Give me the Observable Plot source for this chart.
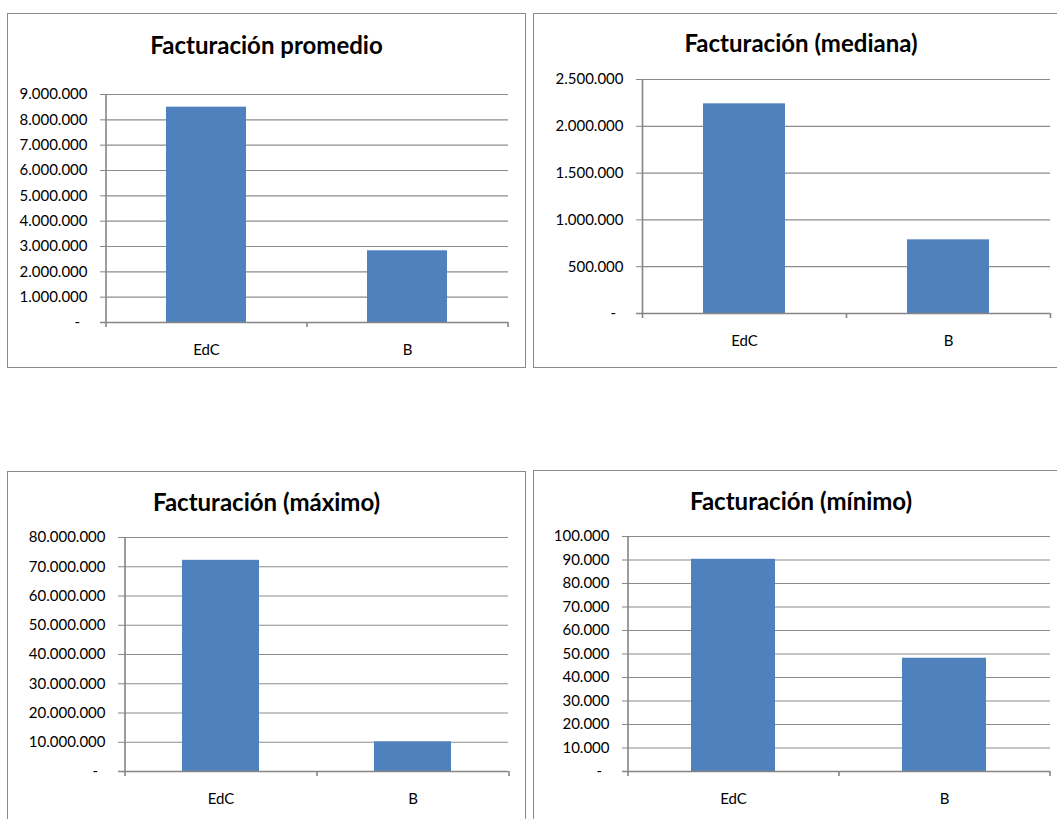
<!DOCTYPE html>
<html>
<head>
<meta charset="utf-8">
<script src="https://cdn.jsdelivr.net/npm/d3@7"></script>
<script src="https://cdn.jsdelivr.net/npm/@observablehq/plot@0.6"></script>
<style>
  body { margin: 0; background: #fff; }
  #page { position: relative; width: 1057px; height: 819px; overflow: hidden; background: #fff; }
  .panel { position: absolute; border: 1px solid #8a8a8a; background: #fff; box-sizing: content-box; }
  .panel h2 { position: absolute; left: 0; right: 0; margin: 0; text-align: center;
              font: bold 24px Lato, "Open Sans", sans-serif; line-height: 28px; color: #000; }
  .panel svg { position: absolute; left: 0; }
</style>
</head>
<body>
<div id="page"></div>
<script>
// Categories shared by every panel
const categories = ["EdC", "B"];

// Billing figures per category
const promedio = [8500000, 2830000];
const mediana  = [2240000, 787000];
const maximo   = [72200000, 10150000];
const minimo   = [90300, 48200];

// Y tick values for each panel
const promedioTicks = [0, 1000000, 2000000, 3000000, 4000000, 5000000, 6000000, 7000000, 8000000, 9000000];
const medianaTicks  = [0, 500000, 1000000, 1500000, 2000000, 2500000];
const maximoTicks   = [0, 10000000, 20000000, 30000000, 40000000, 50000000, 60000000, 70000000, 80000000];
const minimoTicks   = [0, 10000, 20000, 30000, 40000, 50000, 60000, 70000, 80000, 90000, 100000];

const titles = ["Facturación promedio", "Facturación (mediana)", "Facturación (máximo)", "Facturación (mínimo)"];

// Spanish number format: dot as thousands separator, dash for zero
const es = d3.formatLocale({decimal: ",", thousands: ".", grouping: [3], currency: ["", ""]});
const fmtNum = es.format(",.0f");
const tickFormat = v => v === 0 ? "-\u2002" : fmtNum(v);

const BAR = "#4f81bd";
const GRID = "#8c8c8c";
const AXIS = "#858585";

// Panel boxes and plot margins
const panels = [
  {title: titles[0], values: promedio, ticks: promedioTicks,
   left: 7, top: 13, w: 517, h: 353, titleTop: 17, ml: 98, mr: 17, mt: 80, mb: 45},
  {title: titles[1], values: mediana, ticks: medianaTicks,
   left: 533, top: 13, w: 534, h: 353, titleTop: 15, ml: 108, mr: 18, mt: 65, mb: 54},
  {title: titles[2], values: maximo, ticks: maximoTicks,
   left: 7, top: 471, w: 517, h: 353, titleTop: 16, ml: 116, mr: 17, mt: 65, mb: 54},
  {title: titles[3], values: minimo, ticks: minimoTicks,
   left: 533, top: 470, w: 534, h: 353, titleTop: 16, ml: 94, mr: 18, mt: 65, mb: 53}
];

const page = document.getElementById("page");

for (const p of panels) {
  const box = document.createElement("div");
  box.className = "panel";
  Object.assign(box.style, {left: p.left + "px", top: p.top + "px", width: p.w + "px", height: p.h + "px"});

  const h = document.createElement("h2");
  h.textContent = p.title;
  h.style.top = p.titleTop + "px";
  box.appendChild(h);

  const data = categories.map((c, i) => ({cat: c, value: p.values[i]}));
  const step = (p.w - p.ml - p.mr) / categories.length;

  const chart = Plot.plot({
    width: p.w,
    height: p.h,
    marginLeft: p.ml,
    marginRight: p.mr,
    marginTop: p.mt,
    marginBottom: p.mb,
    style: {background: "transparent", color: "#000", fontFamily: "Lato, 'Open Sans', sans-serif", fontSize: "15px"},
    x: {domain: categories, paddingInner: 0.6, paddingOuter: 0.3, axis: null},
    y: {domain: [0, d3.max(p.ticks)], axis: null},
    marks: [
      Plot.gridY(p.ticks.filter(t => t > 0), {stroke: GRID, strokeOpacity: 1, strokeWidth: 1.2}),
      Plot.barY(data, {x: "cat", y: "value", fill: BAR}),
      // category axis baseline and boundary ticks
      Plot.ruleY([0], {stroke: AXIS, strokeWidth: 1.6, insetLeft: -6}),
      Plot.ruleX([categories[0]], {dx: -step / 2, stroke: AXIS, strokeWidth: 1.6, insetBottom: -5}),
      Plot.ruleX(categories.slice(1), {dx: -step / 2, y1: 0, stroke: AXIS, strokeWidth: 1.6, insetBottom: -5}),
      Plot.ruleX([categories[categories.length - 1]], {dx: step / 2, y1: 0, stroke: AXIS, strokeWidth: 1.6, insetBottom: -5}),
      Plot.axisY(p.ticks, {tickSize: 6, tickPadding: 13, tickFormat, stroke: AXIS, fontSize: 15, label: null}),
      Plot.axisX({tickSize: 0, tickPadding: 22, fontSize: 15, label: null})
    ]
  });
  chart.style.top = "0px";
  box.appendChild(chart);
  page.appendChild(box);
}
</script>
</body>
</html>
